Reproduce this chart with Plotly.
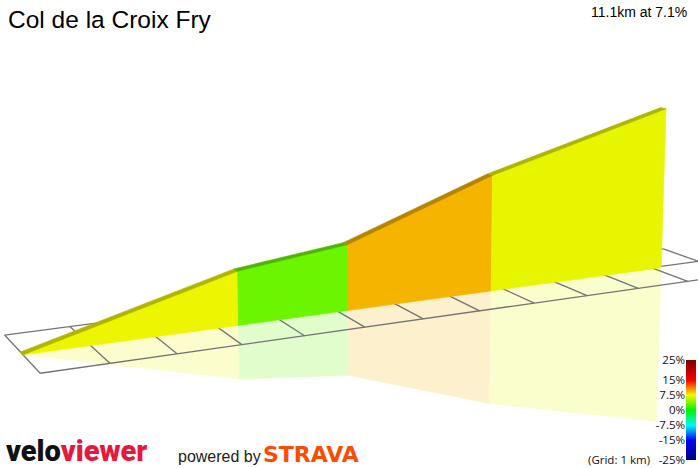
import numpy as np
import plotly.graph_objects as go

# ---------------- data ----------------
title_text = "Col de la Croix Fry"
summary_text = "11.1km at 7.1%"
grid_note = "(Grid: 1 km)"

dist_km = [0.0, 3.32, 5.16, 7.76, 11.15]          # segment boundaries along the climb
elev_m = [677, 919, 979, 1226, 1467]               # elevation at each boundary

grid_marks_km = list(range(0, 13))                 # 1 km grid
grid_lanes_km = [-1.0, 0.0, 1.0]                   # lateral grid lines

scale_pct = [-25, -15, -7.5, 0, 7.5, 15, 25]
scale_rgb = [(0, 0, 128), (0, 0, 245), (0, 245, 245), (0, 245, 0),
             (245, 245, 0), (245, 0, 0), (128, 0, 0)]
tick_pct = [25, 15, 7.5, 0, -7.5, -15, -25]
tick_text = ["25%", "15%", "7.5%", "0%", "-7.5%", "-15%", "-25%"]

# ---------------- view / style ----------------
W, H = 698, 468
ALPHA = np.radians(65.07)   # yaw of camera relative to the climb axis
PHI = np.radians(9.83)      # camera pitch (down)
ROLL = np.radians(-0.35)
FOCAL = 1601.0
CX, CY = 323.2, 135.55
CAM = np.array([-5.377, -21.875, 6.975])
VEXAG = 3.5
WALL_T = 0.15
REFLECT_ALPHA = 0.2
TOP_SHADE = 0.74
GRID_COLOR = "#747474"

sa, ca = np.sin(ALPHA), np.cos(ALPHA)
sp, cp = np.sin(PHI), np.cos(PHI)
R_ = np.array([sa, -ca, 0.0])
U_ = np.array([sp * ca, sp * sa, cp])
F_ = np.array([cp * ca, cp * sa, -sp])


def project(pts):
    xs, ys = [], []
    for d, b, z in pts:
        rel = np.array([d, b, z], dtype=float) - CAM
        xc, yc, zc = rel @ R_, rel @ U_, rel @ F_
        u, v = FOCAL * xc / zc, -FOCAL * yc / zc
        xs.append(CX + u * np.cos(ROLL) - v * np.sin(ROLL))
        ys.append(CY + u * np.sin(ROLL) + v * np.cos(ROLL))
    return xs, ys


def grad_rgb(g):
    g = min(max(g, scale_pct[0]), scale_pct[-1])
    return tuple(float(np.interp(g, scale_pct, [c[k] for c in scale_rgb])) for k in range(3))


def css(rgb):
    return "rgb(%d,%d,%d)" % tuple(int(round(c)) for c in rgb)


def poly_trace(pts, rgb):
    xs, ys = project(pts)
    xs.append(xs[0]); ys.append(ys[0])
    return go.Scatter(x=xs, y=ys, mode="lines", fill="toself", fillcolor=css(rgb),
                      line=dict(color=css(rgb), width=0.6), hoverinfo="skip")


fig = go.Figure()

base = elev_m[0]
zs = [(e - base) / 1000.0 * VEXAG for e in elev_m]
hw = WALL_T / 2
segs = []
for i in range(len(dist_km) - 1):
    d0, d1 = dist_km[i], dist_km[i + 1]
    g = (elev_m[i + 1] - elev_m[i]) / ((d1 - d0) * 1000.0) * 100.0
    segs.append((d0, d1, zs[i], zs[i + 1], grad_rgb(g)))

# reflections
for d0, d1, z0, z1, rgb in segs:
    light = tuple(255 - (255 - c) * REFLECT_ALPHA for c in rgb)
    fig.add_trace(poly_trace([(d0, -hw, 0), (d1, -hw, 0), (d1, -hw, -z1), (d0, -hw, -z0)], light))

# grid
gx, gy = [], []
for b in grid_lanes_km:
    xs, ys = project([(grid_marks_km[0], b, 0), (grid_marks_km[-1], b, 0)])
    gx += xs + [None]; gy += ys + [None]
for d in grid_marks_km:
    xs, ys = project([(d, grid_lanes_km[0], 0), (d, grid_lanes_km[-1], 0)])
    gx += xs + [None]; gy += ys + [None]
fig.add_trace(go.Scatter(x=gx, y=gy, mode="lines", line=dict(color=GRID_COLOR, width=1.3),
                         hoverinfo="skip"))

# wall faces and top surfaces
for d0, d1, z0, z1, rgb in segs:
    fig.add_trace(poly_trace([(d0, -hw, 0), (d1, -hw, 0), (d1, -hw, z1), (d0, -hw, z0)], rgb))
for d0, d1, z0, z1, rgb in segs:
    dark = tuple(c * TOP_SHADE for c in rgb)
    fig.add_trace(poly_trace([(d0, -hw, z0), (d1, -hw, z1), (d1, hw, z1), (d0, hw, z0)], dark))

# gradient colour bar
zbar = np.linspace(-25, 25, 201)
cs = [[(p - scale_pct[0]) / (scale_pct[-1] - scale_pct[0]), css(c)] for p, c in zip(scale_pct, scale_rgb)]
fig.add_trace(go.Heatmap(z=zbar.reshape(-1, 1), y=zbar, x=[0], colorscale=cs, zmin=-25, zmax=25,
                         showscale=False, xaxis="x2", yaxis="y2", hoverinfo="skip"))

fig.update_layout(
    width=W, height=H, margin=dict(l=0, r=0, t=0, b=0, pad=0, autoexpand=False),
    paper_bgcolor="white", plot_bgcolor="white", showlegend=False,
    xaxis=dict(range=[0, W], visible=False, domain=[0, 1], automargin=False),
    yaxis=dict(range=[H, 0], visible=False, domain=[0, 1], automargin=False),
    xaxis2=dict(domain=[686 / W, 696 / W], range=[-0.5, 0.5], visible=False, anchor="y2",
                automargin=False),
    yaxis2=dict(domain=[1 - 460 / H, 1 - 360 / H], range=[-25, 25], anchor="x2", side="left",
                tickvals=tick_pct, ticktext=tick_text, showgrid=False, zeroline=False,
                showline=False, ticks="", automargin=False,
                tickfont=dict(family="Open Sans", size=11.5, color="#111")),
    annotations=[
        dict(x=6, y=19.7, xref="x", yref="y", text=title_text, showarrow=False,
             xanchor="left", yanchor="middle",
             font=dict(family="Liberation Sans", size=24.5, color="#000")),
        dict(x=688.5, y=12.4, xref="x", yref="y", text=summary_text, showarrow=False,
             xanchor="right", yanchor="middle",
             font=dict(family="Liberation Sans", size=14, color="#000")),
        dict(x=652, y=459, xref="x", yref="y", text=grid_note, showarrow=False,
             xanchor="right", yanchor="middle",
             font=dict(family="Open Sans", size=11.5, color="#111")),
        dict(x=4, y=451, xref="x", yref="y",
             text="<span style='color:#111'>velo</span><span style='color:#e8173c'>viewer</span>",
             showarrow=False, xanchor="left", yanchor="middle",
             font=dict(family="Roboto", size=29, weight=900)),
        dict(x=176, y=456, xref="x", yref="y", text="powered by", showarrow=False,
             xanchor="left", yanchor="middle",
             font=dict(family="Liberation Sans", size=16, color="#222")),
        dict(x=261, y=454.5, xref="x", yref="y", text="<b>STRAVA</b>", showarrow=False,
             xanchor="left", yanchor="middle",
             font=dict(family="DejaVu Sans", size=22, color="#fc4c02")),
    ],
)

fig.write_html("out.html", config={"displayModeBar": False},
               post_script="document.body.style.margin='0';document.body.style.padding='0';")
